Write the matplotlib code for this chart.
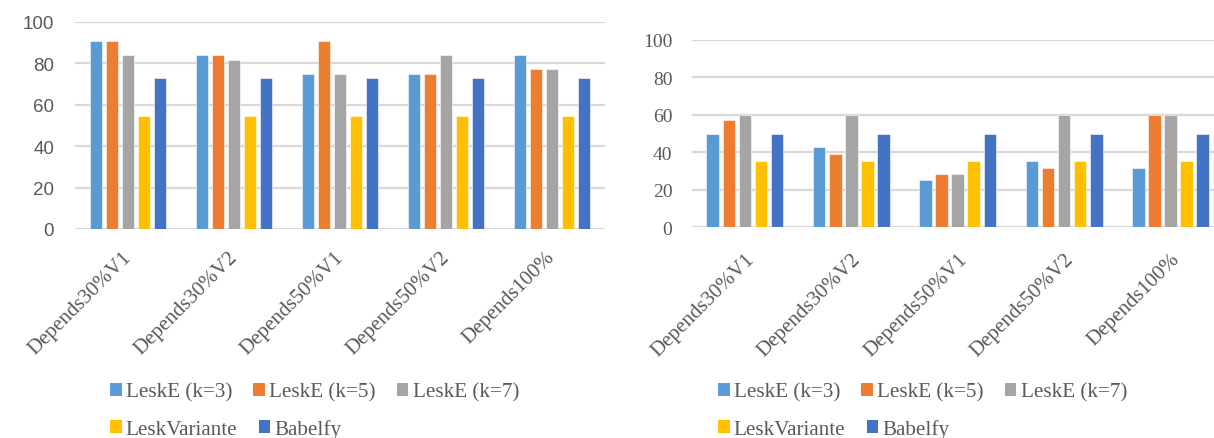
import numpy as np
import matplotlib
matplotlib.use('Agg')
import matplotlib.pyplot as plt
from matplotlib.patches import Patch

# data
categories = ['Depends30%V1', 'Depends30%V2', 'Depends50%V1', 'Depends50%V2', 'Depends100%']
series = ['LeskE (k=3)', 'LeskE (k=5)', 'LeskE (k=7)', 'LeskVariante', 'Babelfy']
colors = ['#5B9BD5', '#ED7D31', '#A5A5A5', '#FFC000', '#4472C4']

left_k3 = [90.9, 83.7, 75.0, 75.0, 83.7]
left_k5 = [90.9, 83.7, 90.9, 75.0, 77.1]
left_k7 = [83.7, 81.6, 75.0, 83.7, 77.1]
left_variante = [54.5, 54.5, 54.5, 54.5, 54.5]
left_babelfy = [72.7, 72.7, 72.7, 72.7, 72.7]

right_k3 = [50.0, 43.0, 25.0, 35.5, 31.6]
right_k5 = [57.2, 39.1, 28.6, 31.6, 60.0]
right_k7 = [60.0, 60.0, 28.6, 60.0, 60.0]
right_variante = [35.5, 35.5, 35.5, 35.5, 35.5]
right_babelfy = [50.0, 50.0, 50.0, 50.0, 50.0]

yticks = [0, 20, 40, 60, 80, 100]

txt = '#595959'
grid = '#D9D9D9'
W, H = 1214, 439

fig = plt.figure(figsize=(W / 100, H / 100), dpi=100)


def px_axes(x0, y_top, x1, y_bot):
    return fig.add_axes([x0 / W, 1 - y_bot / H, (x1 - x0) / W, (y_bot - y_top) / H])


def draw(ax, data, ytick_font, ytick_size, pad, xsize, xpad, xshift):
    x = np.arange(len(categories))
    step, width = 0.151, 0.118
    for i, vals in enumerate(data):
        ax.bar(x + (i - 2) * step, vals, width, color=colors[i], zorder=3,
               edgecolor='white', linewidth=0.4)
    ax.set_xlim(-0.5, len(categories) - 0.5)
    ax.set_ylim(0, 100)
    ax.set_yticks(yticks)
    ax.set_yticklabels([str(t) for t in yticks], family=ytick_font, fontsize=ytick_size, color=txt)
    ax.yaxis.grid(True, color=grid, linewidth=1.6, zorder=0)
    ax.set_axisbelow(True)
    for s in ax.spines.values():
        s.set_visible(False)
    ax.tick_params(axis='y', length=0, pad=pad)
    ax.tick_params(axis='x', length=0, pad=xpad)
    ax.set_xticks(x + xshift)
    ax.set_xticklabels(categories, rotation=45, ha='right', va='top', rotation_mode='anchor',
                       family='Liberation Serif', fontsize=xsize, color=txt)


def legend_rows(x_left, y1, y2):
    handles = [Patch(facecolor=c, edgecolor='none') for c in colors]
    kw = dict(frameon=False, loc='center left', bbox_transform=fig.transFigure,
              prop={'family': 'Liberation Serif', 'size': 15.2}, labelcolor=txt,
              handlelength=0.55, handleheight=0.55, handletextpad=0.2,
              columnspacing=1.0, borderpad=0, borderaxespad=0)
    l1 = fig.legend(handles[:3], series[:3], ncol=3,
                    bbox_to_anchor=(x_left / W, 1 - y1 / H), **kw)
    l2 = fig.legend(handles[3:], series[3:], ncol=2,
                    bbox_to_anchor=(x_left / W, 1 - y2 / H), **kw)
    return l1, l2


ax1 = px_axes(75, 22.7, 605, 230)
draw(ax1, [left_k3, left_k5, left_k7, left_variante, left_babelfy],
     'Liberation Sans', 13.5, 15, 15, 13, -0.06)

ax2 = px_axes(691.7, 40.7, 1223.7, 228.3)
draw(ax2, [right_k3, right_k5, right_k7, right_variante, right_babelfy],
     'Liberation Serif', 14, 14, 15, 16, 0.0)

legend_rows(110, 393, 430)
legend_rows(718, 393, 430)

fig.savefig('out.png', dpi=100)
